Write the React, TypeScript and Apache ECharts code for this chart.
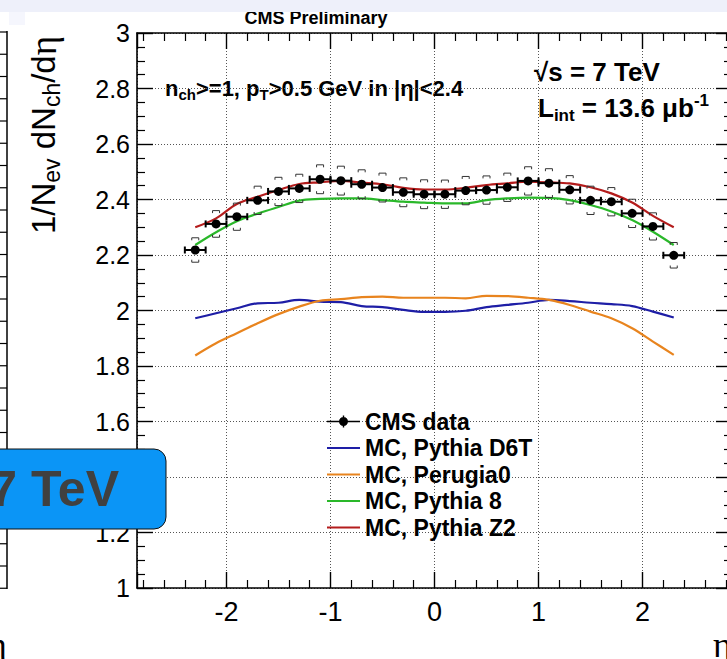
import React, { useEffect, useRef } from 'react';
import * as echarts from 'echarts';

// pseudorapidity bin centres
const eta = [-2.3, -2.1, -1.9, -1.7, -1.5, -1.3, -1.1, -0.9, -0.7, -0.5, -0.3, -0.1, 0.1, 0.3, 0.5, 0.7, 0.9, 1.1, 1.3, 1.5, 1.7, 1.9, 2.1, 2.3];
const binHalfWidth = [0.1, 0.1, 0.1, 0.1, 0.1, 0.1, 0.1, 0.1, 0.1, 0.1, 0.1, 0.1, 0.1, 0.1, 0.1, 0.1, 0.1, 0.1, 0.1, 0.1, 0.1, 0.1, 0.1, 0.1];
const cmsData = [2.218, 2.312, 2.338, 2.397, 2.429, 2.440, 2.473, 2.468, 2.455, 2.443, 2.426, 2.419, 2.419, 2.432, 2.434, 2.444, 2.467, 2.459, 2.435, 2.397, 2.392, 2.350, 2.303, 2.199];
const cmsSyst = [0.044, 0.048, 0.049, 0.051, 0.051, 0.051, 0.052, 0.052, 0.052, 0.052, 0.052, 0.052, 0.051, 0.051, 0.051, 0.051, 0.051, 0.052, 0.051, 0.051, 0.051, 0.051, 0.049, 0.046];
const pythiaD6T = [1.972, 1.990, 2.008, 2.026, 2.028, 2.038, 2.032, 2.030, 2.016, 2.012, 2.002, 1.995, 1.995, 1.999, 2.012, 2.020, 2.028, 2.038, 2.034, 2.028, 2.023, 2.016, 1.996, 1.975];
const perugia0 = [1.838, 1.882, 1.918, 1.954, 1.987, 2.014, 2.035, 2.041, 2.048, 2.050, 2.046, 2.046, 2.046, 2.044, 2.053, 2.052, 2.046, 2.038, 2.020, 1.996, 1.972, 1.936, 1.888, 1.840];
const pythia8 = [2.236, 2.282, 2.322, 2.349, 2.373, 2.396, 2.402, 2.404, 2.404, 2.398, 2.392, 2.389, 2.386, 2.386, 2.398, 2.404, 2.407, 2.406, 2.398, 2.380, 2.357, 2.326, 2.284, 2.236];
const pythiaZ2 = [2.300, 2.332, 2.384, 2.410, 2.434, 2.456, 2.462, 2.467, 2.461, 2.455, 2.442, 2.436, 2.436, 2.442, 2.452, 2.458, 2.464, 2.462, 2.458, 2.444, 2.422, 2.389, 2.341, 2.300];

const seriesNames = ['CMS data', 'MC, Pythia D6T', 'MC, Perugia0', 'MC, Pythia 8', 'MC, Pythia Z2'];
const mcColors = ['#1e1ea6', '#e8841e', '#2ab82a', '#b41c1c'];

const X_MIN = -2.86;
const X_MAX = 2.86;
const Y_MIN = 1;
const Y_MAX = 3;
const Y_STEP = 0.2;

const FONT = '"Liberation Sans", Arial, Helvetica, sans-serif';
const SERIF = '"Liberation Serif", "DejaVu Serif", serif';
const LINE_ICON = 'path://M0,6.1H33V7.9H0Z';

export default function App() {
  const ref = useRef<HTMLDivElement>(null);

  useEffect(() => {
    const chart = echarts.init(ref.current as HTMLDivElement, null, { renderer: 'svg' });

    const pair = (ys: number[]) => eta.map((x, i) => [x, ys[i]]);

    const gridLeft = 137;
    const gridTop = 33;
    const gridWidth = 595;
    const gridHeight = 555;

    const leftPanelTicks: any[] = [];
    for (let y = 32; y <= 589; y += 22.25) {
      leftPanelTicks.push({
        type: 'line',
        shape: { x1: 0, y1: y, x2: 7, y2: y },
        style: { stroke: '#000', lineWidth: 1.2 },
        silent: true,
      });
    }

    const mcSeries = [pythiaD6T, perugia0, pythia8, pythiaZ2].map((ys, k) => ({
      name: seriesNames[k + 1],
      type: 'line',
      data: pair(ys),
      smooth: 0.35,
      symbol: 'none',
      showSymbol: false,
      lineStyle: { color: mcColors[k], width: 2.2 },
      itemStyle: { color: mcColors[k] },
      z: 2,
      silent: true,
    }));

    const tickCommon = {
      axisTick: { show: true, inside: true, length: 16, lineStyle: { color: '#000', width: 1.4 } },
    };

    const option: any = {
      animation: false,
      backgroundColor: '#ffffff',
      textStyle: { fontFamily: FONT },
      grid: {
        left: gridLeft,
        top: gridTop,
        width: gridWidth,
        height: gridHeight,
        containLabel: false,
        outerBoundsMode: 'none',
        outerBounds: { left: -200, right: -200, top: -200, bottom: -200 },
      },
      legend: {
        orient: 'vertical',
        left: 322,
        top: 405,
        itemWidth: 33,
        itemHeight: 14,
        itemGap: 3.5,
        selectedMode: false,
        textStyle: { fontFamily: FONT, fontSize: 23, fontWeight: 'bold', color: '#000' },
        data: [
          { name: seriesNames[0], icon: 'path://M0,6.2H33V7.8H0Z M21,7A4.5,4.5 0 1 1 12,7A4.5,4.5 0 1 1 21,7Z M15.8,1H17.2V13H15.8Z' },
          { name: seriesNames[1], icon: LINE_ICON },
          { name: seriesNames[2], icon: LINE_ICON },
          { name: seriesNames[3], icon: LINE_ICON },
          { name: seriesNames[4], icon: LINE_ICON },
        ],
      },
      xAxis: [
        {
          type: 'value',
          position: 'bottom',
          min: X_MIN,
          max: X_MAX,
          splitNumber: 5,
          axisLine: { show: true, onZero: false, lineStyle: { color: '#000', width: 1.6 } },
          ...tickCommon,
          minorTick: { show: true, splitNumber: 5, length: 8, lineStyle: { color: '#000', width: 1.2 } },
          axisLabel: { show: true, color: '#000', fontSize: 27, fontFamily: FONT, margin: 10, showMinLabel: false, showMaxLabel: false },
          splitLine: { show: true, lineStyle: { color: '#555', width: 1, type: [1, 2] } },
        },
        {
          type: 'value',
          position: 'top',
          min: X_MIN,
          max: X_MAX,
          splitNumber: 5,
          axisLine: { show: true, onZero: false, lineStyle: { color: '#000', width: 1.6 } },
          ...tickCommon,
          minorTick: { show: true, splitNumber: 5, length: 8, lineStyle: { color: '#000', width: 1.2 } },
          axisLabel: { show: false },
          splitLine: { show: false },
        },
      ],
      yAxis: [
        {
          type: 'value',
          position: 'left',
          min: Y_MIN,
          max: Y_MAX,
          interval: Y_STEP,
          axisLine: { show: true, onZero: false, lineStyle: { color: '#000', width: 1.6 } },
          ...tickCommon,
          minorTick: { show: true, splitNumber: 4, length: 8, lineStyle: { color: '#000', width: 1.2 } },
          axisLabel: { show: true, color: '#000', fontSize: 25, fontFamily: FONT, margin: 7 },
          splitLine: { show: true, lineStyle: { color: '#555', width: 1, type: [1, 2] } },
        },
        {
          type: 'value',
          position: 'right',
          min: Y_MIN,
          max: Y_MAX,
          interval: Y_STEP,
          axisLine: { show: false, onZero: false },
          ...tickCommon,
          minorTick: { show: true, splitNumber: 4, length: 8, lineStyle: { color: '#000', width: 1.2 } },
          axisLabel: { show: false },
          splitLine: { show: false },
        },
      ],
      series: [
        ...mcSeries,
        {
          name: 'CMS errors',
          type: 'custom',
          xAxisIndex: 0,
          yAxisIndex: 0,
          silent: true,
          z: 3,
          encode: { x: 0, y: 1 },
          data: eta.map((x, i) => [x, cmsData[i], cmsSyst[i], binHalfWidth[i]]),
          renderItem: (params: any, api: any) => {
            const x = api.value(0);
            const y = api.value(1);
            const s = api.value(2);
            const h = api.value(3);
            const l = api.coord([x - h, y]);
            const r = api.coord([x + h, y]);
            const up = api.coord([x, y + s]);
            const dn = api.coord([x, y - s]);
            const w = 3.5;
            const t = 2.5;
            const stat = { stroke: '#000', lineWidth: 2 };
            const sys = { stroke: '#333', lineWidth: 1, fill: 'none' };
            return {
              type: 'group',
              children: [
                { type: 'line', shape: { x1: l[0], y1: l[1], x2: r[0], y2: r[1] }, style: stat },
                { type: 'line', shape: { x1: l[0], y1: l[1] - 3.5, x2: l[0], y2: l[1] + 3.5 }, style: stat },
                { type: 'line', shape: { x1: r[0], y1: r[1] - 3.5, x2: r[0], y2: r[1] + 3.5 }, style: stat },
                { type: 'polyline', shape: { points: [[up[0] - w, up[1] + t], [up[0] - w, up[1]], [up[0] + w, up[1]], [up[0] + w, up[1] + t]] }, style: sys },
                { type: 'polyline', shape: { points: [[dn[0] - w, dn[1] - t], [dn[0] - w, dn[1]], [dn[0] + w, dn[1]], [dn[0] + w, dn[1] - t]] }, style: sys },
              ],
            };
          },
        },
        {
          name: seriesNames[0],
          type: 'scatter',
          data: pair(cmsData),
          symbol: 'circle',
          symbolSize: 9,
          itemStyle: { color: '#000', opacity: 1 },
          z: 4,
          silent: true,
        },
      ],
      graphic: [
        { type: 'rect', z: 100, shape: { x: 0, y: 0, width: 727, height: 12 }, style: { fill: '#eef0fa' }, silent: true },
        { type: 'rect', z: 100, shape: { x: 9, y: 12, width: 16, height: 13 }, style: { fill: '#f5f6fd' }, silent: true },
        { type: 'line', z: 100, shape: { x1: 7, y1: 31, x2: 7, y2: 589 }, style: { stroke: '#000', lineWidth: 1.5 }, silent: true },
        ...leftPanelTicks,
        {
          type: 'text',
          x: -12,
          y: 645,
          style: { text: 'η', font: `36px ${SERIF}`, fill: '#000', textAlign: 'left', textVerticalAlign: 'middle' },
          silent: true,
        },
        {
          type: 'rect',
          z: 100,
          shape: { x: -20, y: 449, width: 186, height: 80, r: 12 },
          style: { fill: '#0b95f6', stroke: '#111', lineWidth: 1 },
          silent: true,
        },
        {
          type: 'text',
          z: 101,
          x: 119,
          y: 489,
          style: { text: '7 TeV', font: `bold 50px ${FONT}`, fill: '#404040', textAlign: 'right', textVerticalAlign: 'middle' },
          silent: true,
        },
        {
          type: 'text',
          x: 316,
          y: 18,
          style: { text: 'CMS Preliminary', font: `bold 18px ${FONT}`, fill: '#000', textAlign: 'center', textVerticalAlign: 'middle' },
          silent: true,
        },
        {
          type: 'text',
          x: 43,
          y: 135,
          rotation: Math.PI / 2,
          style: {
            text: '{a|1/N}{b|ev}{a| dN}{b|ch}{a|/d}{c|η}',
            textAlign: 'center',
            textVerticalAlign: 'middle',
            fill: '#000',
            rich: {
              a: { fontSize: 33, fontFamily: FONT, lineHeight: 40, verticalAlign: 'middle', fill: '#000' },
              b: { fontSize: 23, fontFamily: FONT, lineHeight: 22, verticalAlign: 'bottom', fill: '#000' },
              c: { fontSize: 37, fontFamily: SERIF, lineHeight: 40, verticalAlign: 'middle', fill: '#000' },
            },
          },
          silent: true,
        },
        {
          type: 'text',
          x: 165,
          y: 88,
          style: {
            text: '{a|n}{b|ch}{a|>=1, p}{b|T}{a|>0.5 GeV in |η|<2.4}',
            textAlign: 'left',
            textVerticalAlign: 'middle',
            fill: '#000',
            rich: {
              a: { fontSize: 22, fontWeight: 'bold', fontFamily: FONT, lineHeight: 28, verticalAlign: 'middle', fill: '#000' },
              b: { fontSize: 15, fontWeight: 'bold', fontFamily: FONT, lineHeight: 15, verticalAlign: 'bottom', fill: '#000' },
            },
          },
          silent: true,
        },
        {
          type: 'text',
          x: 534,
          y: 72,
          style: {
            text: '√s = 7 TeV',
            font: `bold 26px ${FONT}`,
            fill: '#000',
            textAlign: 'left',
            textVerticalAlign: 'middle',
          },
          silent: true,
        },
        {
          type: 'text',
          x: 538,
          y: 108,
          style: {
            text: '{a|L}{b|int}{a| = 13.6 μb}{c|-1}',
            textAlign: 'left',
            textVerticalAlign: 'middle',
            fill: '#000',
            rich: {
              a: { fontSize: 26, fontWeight: 'bold', fontFamily: FONT, lineHeight: 32, verticalAlign: 'middle', fill: '#000' },
              b: { fontSize: 17, fontWeight: 'bold', fontFamily: FONT, lineHeight: 17, verticalAlign: 'bottom', fill: '#000' },
              c: { fontSize: 17, fontWeight: 'bold', fontFamily: FONT, lineHeight: 17, verticalAlign: 'top', fill: '#000' },
            },
          },
          silent: true,
        },
        {
          type: 'text',
          x: 713,
          y: 645,
          style: { text: 'η', font: `36px ${SERIF}`, fill: '#000', textAlign: 'left', textVerticalAlign: 'middle' },
          silent: true,
        },
      ],
    };

    chart.setOption(option);
    return () => chart.dispose();
  }, []);

  return (
    <div
      ref={ref}
      style={{ position: 'fixed', left: 0, top: 0, width: 727, height: 659, background: '#fff' }}
    />
  );
}
